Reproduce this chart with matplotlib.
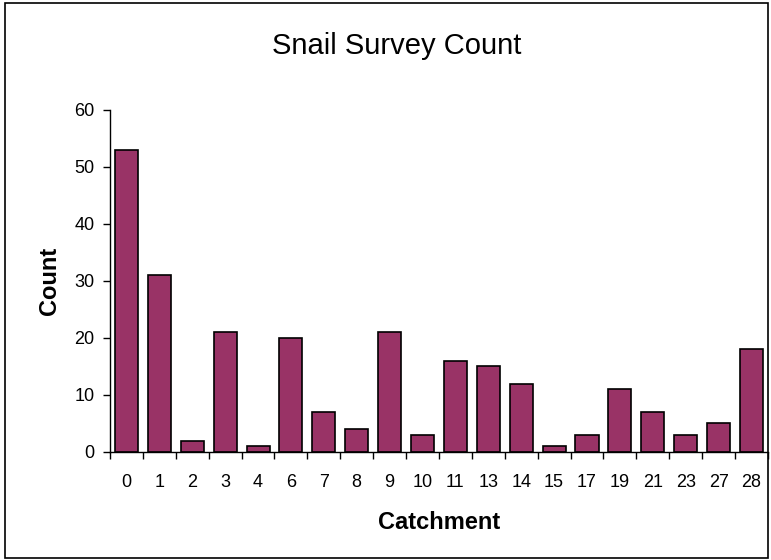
import numpy as np
import matplotlib.pyplot as plt
from matplotlib.patches import Rectangle

plt.rcParams['font.family'] = ['Liberation Sans', 'DejaVu Sans']

## catchment ids and snail counts
catchments = ['0', '1', '2', '3', '4', '6', '7', '8', '9', '10',
              '11', '13', '14', '15', '17', '19', '21', '23', '27', '28']
counts = [53, 31, 2, 21, 1, 20, 7, 4, 21, 3,
          16, 15, 12, 1, 3, 11, 7, 3, 5, 18]

fig = plt.figure(figsize=(7.71, 5.6), dpi=100)
ax = fig.add_axes([0.1427, 0.193, 0.8533, 0.6106])

x = np.arange(len(catchments))
ax.bar(x, counts, width=0.7, color='#993366', edgecolor='black', linewidth=1.2)

ax.set_xlim(-0.5, len(catchments) - 0.5)
ax.set_ylim(0, 60)
ax.set_yticks(range(0, 61, 10))
ax.set_xticks(x)
ax.set_xticklabels(catchments, fontsize=13)
ax.set_xticks(np.arange(-0.5, len(catchments)), minor=True)
ax.tick_params(axis='x', which='major', length=0, pad=16)
ax.tick_params(axis='x', which='minor', length=5, width=1, direction='out')
ax.tick_params(axis='y', labelsize=13, length=5, width=1, direction='out', pad=6)

for side in ['top', 'right']:
    ax.spines[side].set_visible(False)
for side in ['left', 'bottom']:
    ax.spines[side].set_linewidth(1)

ax.set_xlabel('Catchment', fontsize=17, fontweight='bold', labelpad=14)
ax.set_ylabel('Count', fontsize=17, fontweight='bold', labelpad=10)
fig.text(0.515, 0.918, 'Snail Survey Count', ha='center', va='center', fontsize=21)

# outer chart frame
fig.patches.append(Rectangle((0.007, 0.004), 0.989, 0.99, transform=fig.transFigure,
                             fill=False, edgecolor='black', linewidth=1.2))

plt.savefig('out.png', dpi=100)
